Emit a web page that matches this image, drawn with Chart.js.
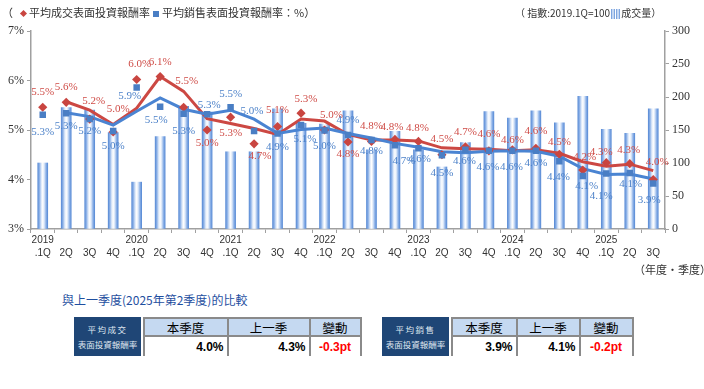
<!DOCTYPE html>
<html>
<head>
<meta charset="utf-8">
<script src="https://cdn.jsdelivr.net/npm/chart.js@4.4.1/dist/chart.umd.min.js"></script>
<style>
  html,body{margin:0;padding:0;background:#fff;}
  body{width:704px;height:389px;position:relative;overflow:hidden;font-family:"Noto Sans CJK TC","Noto Sans",sans-serif;}
  .abs{position:absolute;white-space:nowrap;}
  .cell{position:absolute;box-sizing:border-box;display:flex;align-items:center;}
</style>
</head>
<body>
<div class="abs" style="left:0;top:0;width:704px;height:290px;"><canvas id="c"></canvas></div>

<div class="abs" style="left:2px;top:5px;font-size:11px;line-height:15px;color:#333;">（<span style="display:inline-block;width:5px;height:5px;background:#c94540;transform:rotate(45deg);margin:0 3px 1px 8px;vertical-align:middle;"></span>平均成交表面投資報酬率<span style="display:inline-block;width:6px;height:6px;background:#4a7ec4;margin:0 3px 1px 3px;vertical-align:middle;"></span>平均銷售表面投資報酬率：%）</div>

<div class="abs" style="left:515px;top:5px;font-size:10px;line-height:15px;color:#333;">（ 指數:2019.1Q=100<span style="display:inline-block;width:4px;height:10px;background:linear-gradient(90deg,#5a8cd6,#e8f0fb,#5a8cd6);margin:0 1px 0 1px;vertical-align:middle;"></span><span style="display:inline-block;width:4px;height:10px;background:linear-gradient(90deg,#5a8cd6,#e8f0fb,#5a8cd6);margin:0 1px 0 0;vertical-align:middle;"></span>成交量）</div>

<div class="abs" style="left:634px;top:262px;font-size:11px;line-height:15px;color:#333;">（年度·季度）</div>

<div class="abs" style="left:62px;top:291px;font-size:12px;line-height:17px;color:#1f4f9f;">與上一季度(2025年第2季度)的比較</div>

<div id="tables"></div>

<script>
// ---------------- data ----------------
const categories = [
  ['2019','.1Q'],['','2Q'],['','3Q'],['','4Q'],
  ['2020','.1Q'],['','2Q'],['','3Q'],['','4Q'],
  ['2021','.1Q'],['','2Q'],['','3Q'],['','4Q'],
  ['2022','.1Q'],['','2Q'],['','3Q'],['','4Q'],
  ['2023','.1Q'],['','2Q'],['','3Q'],['','4Q'],
  ['2024','.1Q'],['','2Q'],['','3Q'],['','4Q'],
  ['2025','.1Q'],['','2Q'],['','3Q']
];
// 成交量 index (2019.1Q = 100)
const volumeIndex = [100,184,180,146,71,140,186,177,117,117,182,160,159,179,120,148,120,94,131,178,168,179,161,201,151,145,182];
// 平均成交表面投資報酬率 (%)
const dealYield = [5.46,5.56,5.22,4.96,6.02,6.08,5.46,5.00,5.26,4.72,5.07,5.34,5.00,4.76,4.77,4.81,4.77,4.50,4.66,4.58,4.60,4.63,4.51,4.19,4.34,4.32,4.00];
// 平均銷售表面投資報酬率 (%)
const askYield = [5.31,5.34,5.22,4.98,5.86,5.47,5.33,5.32,5.46,4.98,4.93,5.10,4.99,4.90,4.80,4.69,4.63,4.49,4.60,4.58,4.58,4.58,4.37,4.07,4.12,4.13,3.92];
// trend lines
const dealTrend = [null,5.57,5.40,5.11,5.44,6.08,5.78,5.23,5.13,5.03,4.91,5.22,5.18,4.91,4.80,4.80,4.78,4.64,4.62,4.61,4.58,4.60,4.53,4.36,4.27,4.31,4.18];
const askTrend  = [null,5.35,5.27,5.10,5.38,5.65,5.42,5.32,5.40,5.22,4.93,5.01,5.04,4.93,4.84,4.73,4.65,4.56,4.54,4.57,4.58,4.57,4.47,4.22,4.10,4.11,4.01];
const leftTicks = [3,4,5,6,7];
const rightTicks = [0,50,100,150,200,250,300];

// label placement (px offsets from marker)
const dealLabelDx = [0,0,4,5,3,0,3,0,0,6,0,5,7,0,0,-3,-1,0,0,0,0,0,0,2,-5,-1,4];
const dealLabelDy = [-15,-15,-18,-23,-15,-14,-26,13,16,12,-16,-14,-15,12,-15,-12,-13,-16,-15,-17,-10,-17,-12,-13,-11,-14,-17];
const askLabelDx = [0,0,0,0,-7,-4,0,2,0,-2,0,4,0,0,0,9,1,0,-1,-1,-1,0,-1,4,-5,1,-4];
const askLabelDy = [17,13,12,15,9,13,17,-9,-13,-20,14,14,16,-15,11,16,11,18,11,16,16,12,16,10,23,11,17];

const RED = '#cc4843', BLUE = '#4a84d2';
const RED_TXT = '#cf4c47', BLUE_TXT = '#4d82c9';

function barGradient(ctx){
  const chart = ctx.chart; const xs = chart.scales && chart.scales.x;
  if(!xs || !chart.chartArea) return '#9dbbe8';
  const cx = xs.getPixelForValue(ctx.dataIndex);
  const g = chart.ctx.createLinearGradient(cx-5,0,cx+5,0);
  g.addColorStop(0,'#5a8cd6');
  g.addColorStop(0.18,'#8fb3e8');
  g.addColorStop(0.35,'#dbe7f8');
  g.addColorStop(0.5,'#ffffff');
  g.addColorStop(0.65,'#dbe7f8');
  g.addColorStop(0.82,'#8fb3e8');
  g.addColorStop(1,'#5a8cd6');
  return g;
}

const labelPlugin = {
  id:'pointLabels',
  afterDatasetsDraw(chart){
    const c = chart.ctx;
    c.save();
    c.font = '11px "Liberation Serif", "Times New Roman", serif';
    c.textAlign = 'center'; c.textBaseline = 'middle';
    const defs = [
      {idx:3, dx:dealLabelDx, dy:dealLabelDy, color:RED_TXT},
      {idx:4, dx:askLabelDx, dy:askLabelDy, color:BLUE_TXT}
    ];
    defs.forEach(d=>{
      const meta = chart.getDatasetMeta(d.idx);
      const data = chart.data.datasets[d.idx].data;
      c.fillStyle = d.color;
      meta.data.forEach((pt,i)=>{
        const v = data[i]; if(v==null) return;
        c.fillText(v.toFixed(1)+'%', pt.x + d.dx[i], pt.y + d.dy[i]);
      });
    });
    c.restore();
  }
};

const axisGray = '#a0a0a0';
new Chart(document.getElementById('c'), {
  data:{
    labels: categories,
    datasets:[
      {type:'bar', label:'成交量', data:volumeIndex, yAxisID:'y1', order:10,
       backgroundColor:barGradient, borderWidth:0, barThickness:10},
      {type:'line', label:'成交趨勢', data:dealTrend, yAxisID:'y', order:3,
       borderColor:RED, borderWidth:3, pointRadius:0, tension:0, fill:false},
      {type:'line', label:'銷售趨勢', data:askTrend, yAxisID:'y', order:2,
       borderColor:BLUE, borderWidth:3, pointRadius:0, tension:0, fill:false},
      {type:'line', label:'平均成交表面投資報酬率', data:dealYield, yAxisID:'y', order:1,
       showLine:false, pointStyle:'rectRot', pointRadius:4.6, pointBackgroundColor:'#c94540', pointBorderWidth:0},
      {type:'line', label:'平均銷售表面投資報酬率', data:askYield, yAxisID:'y', order:0,
       showLine:false, pointStyle:'rect', pointRadius:4.6, pointBackgroundColor:'#4a7ec4', pointBorderWidth:0}
    ]
  },
  options:{
    responsive:true, maintainAspectRatio:false, animation:false, devicePixelRatio:1,
    layout:{padding:{top:31,left:0,right:0,bottom:0}},
    plugins:{legend:{display:false}, tooltip:{enabled:false}},
    scales:{
      x:{type:'category', offset:true,
         grid:{display:true, drawOnChartArea:false, drawTicks:true, tickLength:4, color:axisGray, offset:true},
         border:{display:true, color:axisGray, width:1.5},
         ticks:{autoSkip:false, maxRotation:0, minRotation:0, padding:1, color:'#333',
                font:{family:'"Liberation Sans", Arial, sans-serif', size:10, lineHeight:1.3}},
         afterFit(s){ s.height = 61; }},
      y:{position:'left', min:3, max:7,
         afterBuildTicks(s){ s.ticks = leftTicks.map(v=>({value:v})); },
         ticks:{callback:v=>v+'%', color:'#333', padding:3,
                font:{family:'"Liberation Serif", "Times New Roman", serif', size:12}},
         grid:{display:true, drawOnChartArea:false, tickLength:4, color:axisGray},
         border:{display:true, color:axisGray, width:1.5},
         afterFit(s){ s.width = 31; }},
      y1:{position:'right', min:0, max:300,
         afterBuildTicks(s){ s.ticks = rightTicks.map(v=>({value:v})); },
         ticks:{color:'#333', padding:3,
                font:{family:'"Liberation Serif", "Times New Roman", serif', size:12}},
         grid:{display:true, drawOnChartArea:false, tickLength:4, color:axisGray},
         border:{display:true, color:axisGray, width:1.5},
         afterFit(s){ s.width = 39; }}
    }
  },
  plugins:[labelPlugin]
});

// ---------------- comparison tables ----------------
function fmt(v){ return v.toFixed(1); }
function makeTable(left, cols, l1, l2, cur, prev){
  const host = document.getElementById('tables');
  const top = 317, h1 = 18, h2 = 21, navyW = 67;
  const navy = document.createElement('div');
  navy.className='cell';
  navy.style.cssText = `left:${left}px;top:${top}px;width:${navyW}px;height:${h1+h2}px;background:#1f4676;color:#dfe6f0;font-size:8.5px;line-height:15px;flex-direction:column;justify-content:center;text-align:center;`;
  navy.innerHTML = `<div style="letter-spacing:1.5px">${l1}</div><div>${l2}</div>`;
  host.appendChild(navy);
  const diff = Math.round((Number(fmt(cur)) - Number(fmt(prev)))*10)/10;
  const heads = ['本季度','上一季','變動'];
  const vals = [fmt(cur)+'%', fmt(prev)+'%', (diff>0?'+':'')+diff.toFixed(1)+'pt'];
  let x = left + navyW + 1.5;
  cols.forEach((w,i)=>{
    const hd = document.createElement('div');
    hd.className='cell';
    hd.style.cssText = `left:${x}px;top:${top}px;width:${w}px;height:${h1}px;background:#c5d9f1;border-top:2px solid #8a8a8a;border-left:2px solid #8a8a8a;${i===cols.length-1?'border-right:2px solid #8a8a8a;':''}justify-content:center;font-size:12.5px;color:#000;`;
    hd.textContent = heads[i];
    host.appendChild(hd);
    const vc = document.createElement('div');
    vc.className='cell';
    const last = i===cols.length-1;
    vc.style.cssText = `left:${x}px;top:${top+h1}px;width:${w}px;height:${h2}px;background:#fff;border-top:2px solid #8a8a8a;border-left:2px solid #8a8a8a;${last?'border-right:2px solid #8a8a8a;':''}justify-content:${last?'center':'flex-end'};padding-right:${last?0:3}px;font-family:"Liberation Sans",Arial,sans-serif;font-weight:bold;font-size:12px;color:${last?'#ff0000':'#000'};`;
    vc.textContent = vals[i];
    host.appendChild(vc);
    x += w;
  });
}
const n = dealYield.length;
makeTable(74, [84,82,53], '平均成交', '表面投資報酬率', dealYield[n-1], dealYield[n-2]);
makeTable(382, [65,63,55], '平均銷售', '表面投資報酬率', askYield[n-1], askYield[n-2]);
</script>
</body>
</html>
